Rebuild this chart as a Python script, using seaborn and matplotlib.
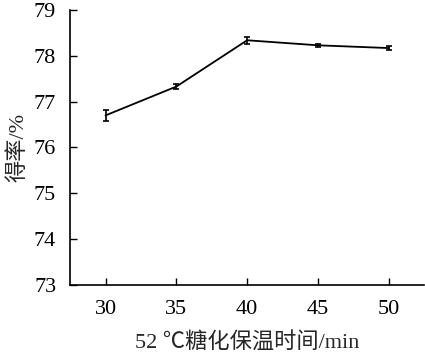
import numpy as np
import matplotlib
matplotlib.use("Agg")
from matplotlib import pyplot as plt
import seaborn as sns

# data
times = [30, 35, 40, 45, 50]
yields = [76.70, 77.33, 78.34, 78.23, 78.17]
errors = [0.12, 0.05, 0.08, 0.03, 0.04]

if __name__ == "__main__":
    sns.set_style("ticks")
    plt.rcParams['font.family'] = ['Liberation Serif', 'Noto Sans CJK SC']
    plt.rcParams['font.size'] = 16

    fig = plt.figure(figsize=(4.25, 3.58), dpi=100)
    ax = fig.add_axes([0.165, 0.204, 0.833, 0.768])

    sns.lineplot(x=times, y=yields, color="black", linewidth=1.3, ax=ax)
    ax.errorbar(times, yields, yerr=errors, fmt="none", ecolor="black",
                elinewidth=1.2, capsize=2.5, capthick=1.2)

    ax.set_xlim(27.5, 52.5)
    ax.set_ylim(73, 79)
    ax.set_xticks(times)
    ax.set_yticks(np.arange(73, 80, 1))
    ax.tick_params(direction="in", length=5, width=1, labelsize=16, colors="black")
    ax.tick_params(axis="x", pad=11)
    ax.tick_params(axis="y", pad=10)
    for s in ("top", "right"):
        ax.spines[s].set_visible(False)
    for s in ("left", "bottom"):
        ax.spines[s].set_linewidth(1.2)
        ax.spines[s].set_color("black")

    ax.set_xlabel("52 ℃糖化保温时间/min", fontsize=16, labelpad=10)
    ax.set_ylabel("得率/%", fontsize=16, labelpad=4)

    fig.savefig("out.png", dpi=100)
